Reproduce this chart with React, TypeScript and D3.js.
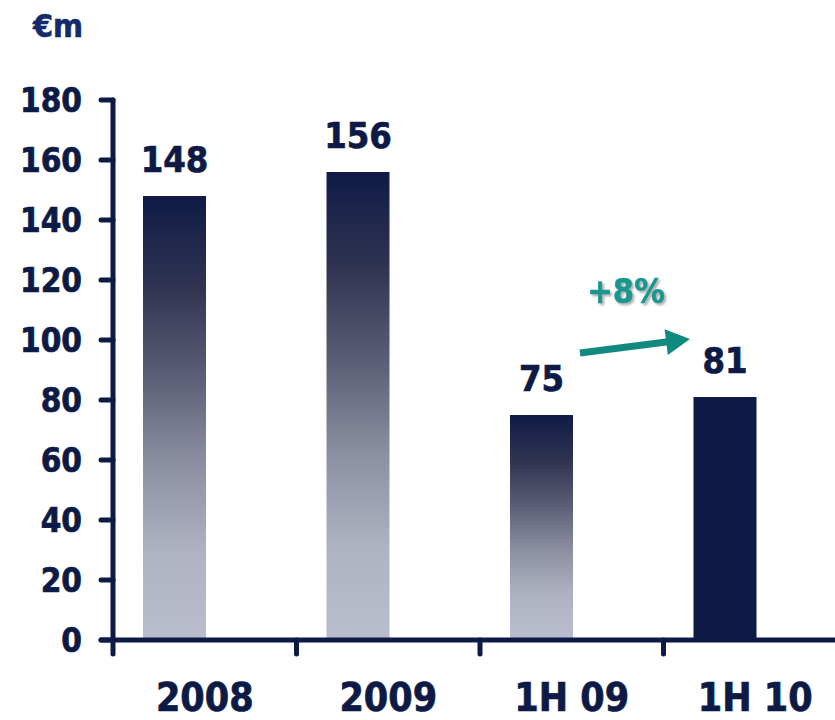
import React from "react";
import * as d3 from "d3";

const categories = ["2008", "2009", "1H 09", "1H 10"];
const values = [148, 156, 75, 81];
const valueLabels = ["148", "156", "75", "81"];
const yTicks = [0, 20, 40, 60, 80, 100, 120, 140, 160, 180];
const unitLabel = "€m";
const growthLabel = "+8%";

const W = 835;
const H = 720;
const NAVY = "#0c1a45";
const TEAL = "#10897f";
const FONT = "'DejaVu Sans Condensed', 'DejaVu Sans', Verdana, sans-serif";

export default function App() {
  const x = d3.scaleBand<string>().domain(categories).range([113, 847]).paddingInner(0).paddingOuter(0);
  const y = d3.scaleLinear().domain([0, 180]).range([640, 100]);
  const bw = x.bandwidth();
  const barOffset = 30;
  const barW = 63;

  const a0 = [580, 353];
  const a1 = [690, 339];
  const ang = Math.atan2(a1[1] - a0[1], a1[0] - a0[0]);
  const headLen = 24;
  const headHalf = 13;
  const shaft = 3.5;
  const bx = a1[0] - headLen * Math.cos(ang);
  const by = a1[1] - headLen * Math.sin(ang);
  const nx = -Math.sin(ang);
  const ny = Math.cos(ang);
  const arrowPts = [
    [a0[0] + nx * shaft, a0[1] + ny * shaft],
    [bx + nx * shaft, by + ny * shaft],
    [bx + nx * headHalf, by + ny * headHalf],
    [a1[0], a1[1]],
    [bx - nx * headHalf, by - ny * headHalf],
    [bx - nx * shaft, by - ny * shaft],
    [a0[0] - nx * shaft, a0[1] - ny * shaft],
  ];

  const heavy = { stroke: NAVY, strokeWidth: 0.7 };

  return (
    <svg
      width={W}
      height={H}
      style={{ position: "absolute", left: 0, top: 0, background: "#fff" }}
      fontFamily={FONT}
    >
      <defs>
        <linearGradient id="barGrad" x1="0" y1="0" x2="0" y2="1">
          <stop offset="0%" stopColor="#0f1b46" />
          <stop offset="20%" stopColor="#2f3351" />
          <stop offset="40%" stopColor="#595d75" />
          <stop offset="60%" stopColor="#8c8fa1" />
          <stop offset="80%" stopColor="#afb2c0" />
          <stop offset="100%" stopColor="#babdcb" />
        </linearGradient>
        <filter id="shadow" x="-20%" y="-20%" width="140%" height="140%">
          <feDropShadow dx="2" dy="2" stdDeviation="0.8" floodColor="#9a9a9a" floodOpacity="0.8" />
        </filter>
      </defs>

      <text x={33} y={37} fontSize={32} fontWeight="bold" fill="#132a6b" stroke="#132a6b" strokeWidth={0.6}>
        {unitLabel}
      </text>

      {categories.map((c, i) => {
        const x0 = (x(c) as number) + barOffset;
        const top = y(values[i]);
        const solid = i === categories.length - 1;
        return (
          <g key={c}>
            <rect
              x={x0}
              y={top}
              width={barW}
              height={y(0) - top}
              fill={solid ? NAVY : "url(#barGrad)"}
            />
            <text
              x={x0 + barW / 2}
              y={top - 24}
              textAnchor="middle"
              fontSize={36}
              fontWeight="bold"
              fill={NAVY}
              {...heavy}
            >
              {valueLabels[i]}
            </text>
            <text
              x={(x(c) as number) + bw / 2}
              y={711}
              textAnchor="middle"
              fontSize={39}
              fontWeight="bold"
              fill={NAVY}
              {...heavy}
            >
              {c}
            </text>
          </g>
        );
      })}

      {/* y axis */}
      <line x1={113} x2={113} y1={y(180)} y2={y(0)} stroke={NAVY} strokeWidth={5} strokeLinecap="round" />
      {yTicks.map((t) => (
        <g key={t}>
          <line x1={101} x2={113} y1={y(t)} y2={y(t)} stroke={NAVY} strokeWidth={5} strokeLinecap="round" />
          <text
            x={82}
            y={y(t)}
            dy="0.36em"
            textAnchor="end"
            fontSize={33}
            fontWeight="bold"
            fill={NAVY}
            {...heavy}
          >
            {t}
          </text>
        </g>
      ))}

      {/* x axis */}
      <line x1={101} x2={W + 5} y1={y(0)} y2={y(0)} stroke={NAVY} strokeWidth={5} strokeLinecap="round" />
      {categories.map((c) => (
        <line
          key={"t" + c}
          x1={x(c) as number}
          x2={x(c) as number}
          y1={y(0)}
          y2={654}
          stroke={NAVY}
          strokeWidth={5}
          strokeLinecap="round"
        />
      ))}

      {/* growth annotation */}
      <polygon points={arrowPts.map((p) => p.join(",")).join(" ")} fill={TEAL} />
      <text
        x={626}
        y={303}
        textAnchor="middle"
        fontSize={34}
        fontWeight="bold"
        fill="#15988f"
        stroke="#15988f"
        strokeWidth={0.6}
        filter="url(#shadow)"
      >
        {growthLabel}
      </text>
    </svg>
  );
}
